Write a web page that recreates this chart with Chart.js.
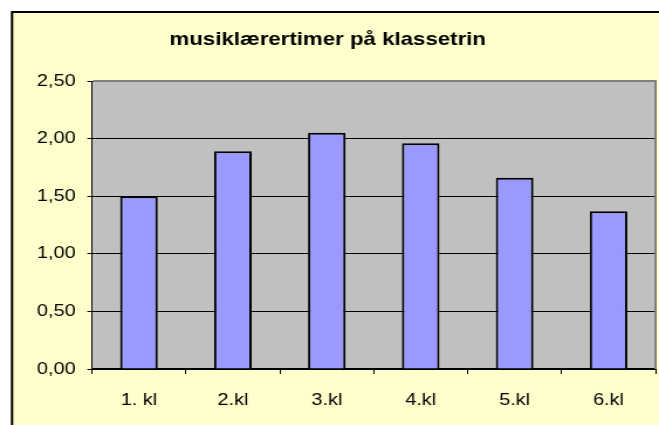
<!DOCTYPE html>
<html>
<head>
<meta charset="utf-8">
<title>musiklærertimer på klassetrin</title>
<script src="https://cdn.jsdelivr.net/npm/chart.js@4/dist/chart.umd.min.js"></script>
<style>
  html, body { margin: 0; padding: 0; background: #fff; overflow: hidden; }
  #wrap { width: 659px; height: 425px; }
  /* the original picture is a little wider than tall fonts suggest,
     so the canvas is drawn narrower and stretched to 659px */
  #timerChart { display: block; width: 659px; height: 425px; }
</style>
</head>
<body>
<div id="wrap"><canvas id="timerChart" width="563" height="425" style="width:659px;height:425px"></canvas></div>
<script>
// data
const titel = 'musiklærertimer på klassetrin';
const klasser = ['1. kl', '2.kl', '3.kl', '4.kl', '5.kl', '6.kl'];
const timer = [1.50, 1.89, 2.05, 1.96, 1.66, 1.37];
const yMin = 0;
const yMax = 2.5;
const yStep = 0.5;

const fontFamily = "'Liberation Sans', Arial, Helvetica, sans-serif";

// yellow frame and grey plot area, like the spreadsheet chart
const frameBg = {
    id: 'frameBg',
    beforeDraw(chart) {
        const ctx = chart.ctx;
        const a = chart.chartArea;
        ctx.save();
        ctx.fillStyle = '#ffffff';
        ctx.fillRect(0, 0, chart.width, chart.height);
        ctx.fillStyle = '#FFFFCC';
        ctx.fillRect(9.5, 11, chart.width, chart.height);
        ctx.strokeStyle = '#000000';
        ctx.lineWidth = 2;
        ctx.beginPath();
        ctx.moveTo(10.3, chart.height);
        ctx.lineTo(10.3, 12);
        ctx.lineTo(chart.width, 12);
        ctx.stroke();
        ctx.fillStyle = '#C0C0C0';
        ctx.fillRect(a.left, a.top, a.right - a.left, a.bottom - a.top);
        ctx.restore();
    },
    afterDraw(chart) {
        const ctx = chart.ctx;
        const a = chart.chartArea;
        ctx.save();
        ctx.strokeStyle = '#808080';
        ctx.lineWidth = 2;
        ctx.beginPath();
        ctx.moveTo(a.left + 1, a.top);
        ctx.lineTo(a.right, a.top);
        ctx.lineTo(a.right, a.bottom);
        ctx.stroke();
        ctx.restore();
    }
};

const ctx = document.getElementById('timerChart').getContext('2d');
new Chart(ctx, {
    type: 'bar',
    data: {
        labels: klasser,
        datasets: [{
            label: 'timer',
            data: timer,
            backgroundColor: '#9999FF',
            borderColor: '#000000',
            borderWidth: 2,
            barPercentage: 0.4,
            categoryPercentage: 1.0
        }]
    },
    options: {
        responsive: false,
        animation: false,
        devicePixelRatio: 1,
        layout: { padding: { left: 0, right: 3, top: 0, bottom: 0 } },
        plugins: {
            legend: { display: false },
            tooltip: { enabled: false },
            title: {
                display: true,
                text: titel,
                color: '#000000',
                font: { family: fontFamily, size: 19, weight: 'bold' },
                padding: { top: 28.5, bottom: 29.7 }
            }
        },
        scales: {
            x: {
                offset: true,
                grid: {
                    offset: true,
                    drawOnChartArea: false,
                    drawTicks: true,
                    tickLength: 5,
                    color: '#000000'
                },
                border: { display: true, color: '#000000', width: 2 },
                ticks: {
                    color: '#000000',
                    padding: 16,
                    font: { family: fontFamily, size: 17 }
                },
                afterFit(scale) { scale.height = 56; }
            },
            y: {
                min: yMin,
                max: yMax,
                grid: {
                    color: '#000000',
                    lineWidth: 1,
                    drawTicks: true,
                    tickLength: 4
                },
                border: { display: true, color: '#000000', width: 1 },
                ticks: {
                    stepSize: yStep,
                    color: '#000000',
                    padding: 10,
                    font: { family: fontFamily, size: 17 },
                    callback: function(v) { return v.toFixed(2).replace('.', ','); }
                },
                afterFit(scale) { scale.width = 78.6; }
            }
        }
    },
    plugins: [frameBg]
});
</script>
</body>
</html>
